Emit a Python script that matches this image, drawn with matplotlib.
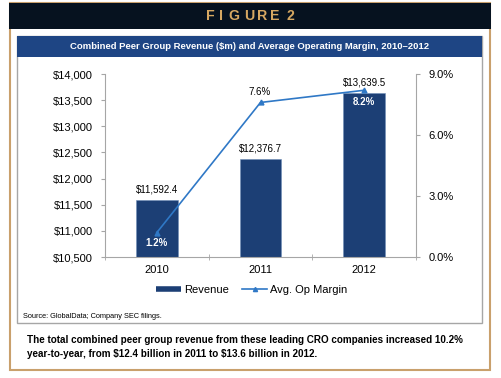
import matplotlib.pyplot as plt
from matplotlib.patches import Rectangle
from matplotlib.lines import Line2D
from matplotlib.ticker import FuncFormatter, PercentFormatter
import numpy as np

W, H = 501, 378

years = ["2010", "2011", "2012"]
revenue = [11592.4, 12376.7, 13639.5]
margin = [1.2, 7.6, 8.2]
revenue_labels = ["$11,592.4", "$12,376.7", "$13,639.5"]
margin_labels = ["1.2%", "7.6%", "8.2%"]

NAVY = "#1c3f75"
LINE = "#2f78c6"
HEADER = "#06121f"
TAN = "#c9a06c"
TITLEBAR = "#1e4584"
GRAY = "#a6a6a6"

plt.rcParams["font.family"] = ["Liberation Sans", "DejaVu Sans"]


def px(x, y, w, h):
    # pixel box (top-left origin) -> figure fraction
    return (x / W, 1 - (y + h) / H), w / W, h / H


fig = plt.figure(figsize=(W / 100, H / 100), dpi=100)

# outer frame and header
(xy, w, h) = px(10, 3, 480, 367)
fig.patches.append(Rectangle(xy, w, h, transform=fig.transFigure, facecolor="white",
                             edgecolor=TAN, linewidth=1.5, zorder=0))
(xy, w, h) = px(9, 3, 482, 26)
fig.patches.append(Rectangle(xy, w, h, transform=fig.transFigure, facecolor=HEADER,
                             edgecolor="none", zorder=1))
# letter-spaced header, one letter at a time
header_letters = ["F", "I", "G", "U", "R", "E", "2"]
header_x = [210, 221.5, 233.5, 249, 262.5, 274.5, 290]
for ch, hx in zip(header_letters, header_x):
    fig.text(hx / W, 1 - 16.5 / H, ch, color="#d6a862", fontsize=10.2,
             fontweight="bold", ha="center", va="center")

# inner chart box
(xy, w, h) = px(17, 36, 465, 287)
fig.patches.append(Rectangle(xy, w, h, transform=fig.transFigure, facecolor="white",
                             edgecolor=GRAY, linewidth=1.0, zorder=1))
(xy, w, h) = px(17, 36, 465, 21)
fig.patches.append(Rectangle(xy, w, h, transform=fig.transFigure, facecolor=TITLEBAR,
                             edgecolor="none", zorder=2))
fig.text(250 / W, 1 - 46.5 / H,
         "Combined Peer Group Revenue ($m) and Average Operating Margin, 2010\u20132012",
         color="white", fontsize=6.8, fontweight="bold", ha="center", va="center")

# plot area
ax = fig.add_axes([105 / W, 1 - 257 / H, 311 / W, 183 / H])
ax.set_zorder(3)
x = np.arange(len(years))
ax.bar(x, revenue, width=0.4, color=NAVY, edgecolor="#6f8fb8", linewidth=0.4, zorder=2)
ax.set_ylim(10500, 14000)
ax.set_xlim(-0.5, 2.5)
ax.set_yticks(np.arange(10500, 14001, 500))
ax.yaxis.set_major_formatter(FuncFormatter(lambda v, p: f"${v:,.0f}"))
ax.set_xticks(x)
ax.set_xticklabels(years)
ax.set_xticks([-0.5, 0.5, 1.5, 2.5], minor=True)
ax.tick_params(axis="x", which="major", length=0, labelsize=8, pad=6)
ax.tick_params(axis="x", which="minor", length=5, direction="inout", color=GRAY)
ax.tick_params(axis="y", length=3, color=GRAY, labelsize=8, pad=6)
for s in ["top", "right"]:
    ax.spines[s].set_visible(False)
for s in ["left", "bottom"]:
    ax.spines[s].set_color(GRAY)
for i, v in enumerate(revenue):
    ax.annotate(revenue_labels[i], (x[i], v), xytext=(0, 4), textcoords="offset points",
                ha="center", va="bottom", fontsize=7)

ax2 = ax.twinx()
ax2.plot(x, margin, color=LINE, linewidth=1.2, marker="^", markersize=3.5, zorder=4)
ax2.set_ylim(0, 9)
ax2.set_yticks([0, 3, 6, 9])
ax2.yaxis.set_major_formatter(PercentFormatter(decimals=1))
ax2.tick_params(axis="y", length=3, color=GRAY, labelsize=8, pad=6)
for s in ["top", "left", "bottom"]:
    ax2.spines[s].set_visible(False)
ax2.spines["right"].set_color(GRAY)
ax2.annotate(margin_labels[0], (x[0], margin[0]), xytext=(0, -4), textcoords="offset points",
             ha="center", va="top", fontsize=7, color="white", fontweight="bold")
ax2.annotate(margin_labels[1], (x[1], margin[1]), xytext=(-1, 4), textcoords="offset points",
             ha="center", va="bottom", fontsize=7)
ax2.annotate(margin_labels[2], (x[2], margin[2]), xytext=(0, -5), textcoords="offset points",
             ha="center", va="top", fontsize=7, color="white", fontweight="bold")

handles = [Line2D([], [], color=NAVY, linewidth=4, solid_capstyle="butt"),
           Line2D([], [], color=LINE, linewidth=1.2, marker="^", markersize=3)]
fig.legend(handles, ["Revenue", "Avg. Op Margin"], loc="center", ncol=2,
           bbox_to_anchor=(252 / W, 1 - 290 / H), frameon=False, fontsize=8,
           handlelength=2.2, columnspacing=1.2, handletextpad=0.3)

fig.text(23 / W, 1 - 316 / H, "Source: GlobalData; Company SEC filings.", fontsize=5.3,
         ha="left", va="center")

caption_lines = ["The total combined peer group revenue from these leading CRO companies increased 10.2%",
                 "year-to-year, from $12.4 billion in 2011 to $13.6 billion in 2012."]
for i, line in enumerate(caption_lines):
    fig.text(27 / W, 1 - (340 + 14 * i) / H, line, fontsize=7.1, fontweight="bold",
             ha="left", va="center", parse_math=False)

fig.savefig("out.png", dpi=100)
